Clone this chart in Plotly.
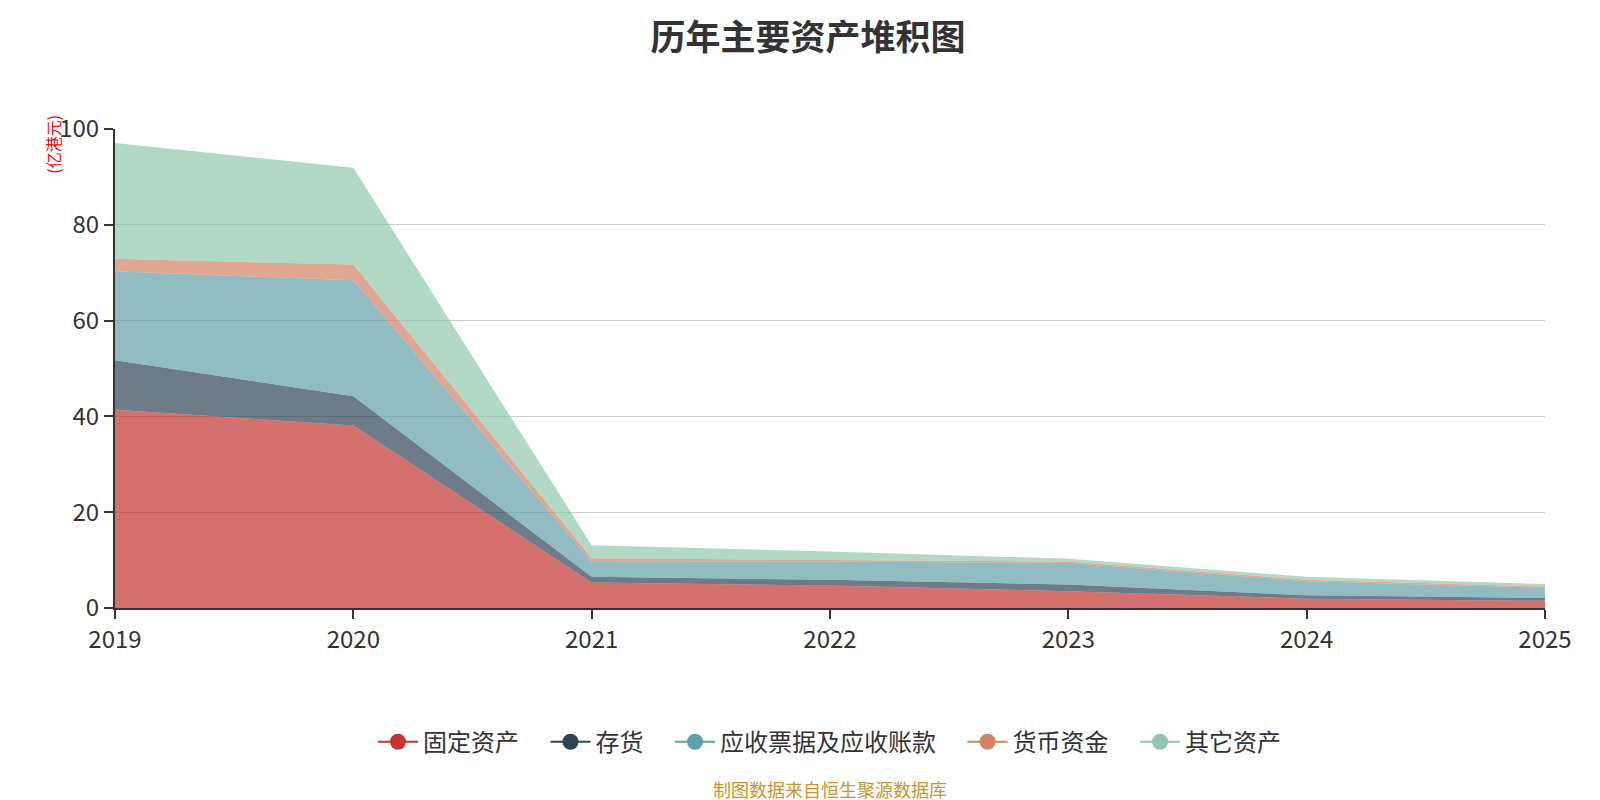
import plotly.graph_objects as go

years = ["2019", "2020", "2021", "2022", "2023", "2024", "2025"]
fixed_assets = [41.4, 38.1, 5.3, 4.7, 3.5, 1.95, 1.5]
inventory = [10.3, 6.1, 1.2, 1.2, 1.4, 0.7, 0.6]
receivables = [18.6, 24.2, 3.1, 3.8, 4.5, 2.95, 2.1]
cash = [2.6, 3.3, 0.8, 0.4, 0.3, 0.3, 0.3]
other = [24.2, 20.2, 2.7, 1.7, 0.6, 0.6, 0.5]

series_names = ["固定资产", "存货", "应收票据及应收账款", "货币资金", "其它资产"]
series_values = [fixed_assets, inventory, receivables, cash, other]
colors = ["#c23531", "#2f4554", "#61a0a8", "#d48265", "#91c7ae"]

def rgba(hex_color, a):
    h = hex_color.lstrip("#")
    r, g, b = int(h[0:2], 16), int(h[2:4], 16), int(h[4:6], 16)
    return f"rgba({r},{g},{b},{a})"

FONT = "Noto Sans CJK SC"
fig = go.Figure()

for name, vals, c in zip(series_names, series_values, colors):
    fig.add_trace(go.Scatter(
        x=years, y=vals, name=name, mode="lines", stackgroup="one",
        line=dict(width=0, color=c), fillcolor=rgba(c, 0.7),
        showlegend=False, hoverinfo="x+y+name",
    ))

n_items = len(series_names)
for i, (name, c) in enumerate(zip(series_names, colors)):
    pad = "\u00a0" * 4 if i < n_items - 1 else ""
    fig.add_trace(go.Scatter(
        x=[None], y=[None], name=name + pad, mode="lines+markers",
        line=dict(color=c, width=2), marker=dict(color=c, size=22),
        showlegend=True,
    ))

fig.update_layout(
    width=1600, height=800,
    paper_bgcolor="white", plot_bgcolor="white",
    margin=dict(l=107, r=63, t=121, b=200),
    font=dict(family=FONT, color="#333333", size=20),
    title=dict(text="<b>历年主要资产堆积图</b>", x=0.5, xanchor="center",
               yref="container", y=0.963, yanchor="middle",
               font=dict(size=35, family=FONT, color="#333333")),
    legend=dict(orientation="h", x=0.5, xanchor="center", y=-0.28, yanchor="middle",
                font=dict(size=24, family=FONT, color="#333333"),
                itemwidth=40, traceorder="normal", tracegroupgap=0),
    showlegend=True,
)

fig.update_xaxes(
    type="category", range=[0, 6], showgrid=False,
    showline=True, linecolor="#333333", linewidth=2,
    ticks="outside", ticklen=9, tickcolor="#333333", tickwidth=2,
    tickfont=dict(size=24, color="#333333"), zeroline=False,
)
fig.update_yaxes(
    range=[0, 100], tickvals=[0, 20, 40, 60, 80, 100],
    showgrid=True, gridcolor="#cccccc", gridwidth=1.3,
    showline=True, linecolor="#333333", linewidth=2,
    ticks="outside", ticklen=9, tickcolor="#333333", tickwidth=2,
    tickfont=dict(size=24, color="#333333"), zeroline=False,
)

fig.add_annotation(
    text="(亿港元)", xref="paper", yref="paper", x=-0.0434, y=1.035,
    xanchor="center", yanchor="top", textangle=-90, showarrow=False,
    font=dict(size=16, color="red", family=FONT),
)
fig.add_annotation(
    text="制图数据来自恒生聚源数据库", xref="paper", yref="paper",
    x=0.5, y=-0.377, xanchor="center", yanchor="middle", showarrow=False,
    font=dict(size=18, color="#c9962e", family=FONT),
)

fig.write_html("out.html")
